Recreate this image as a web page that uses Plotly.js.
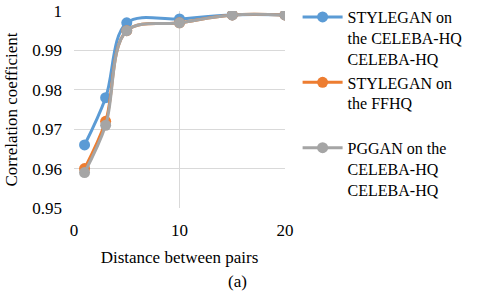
<!DOCTYPE html>
<html>
<head>
<meta charset="utf-8">
<script src="https://cdn.plot.ly/plotly-3.0.1.min.js"></script>
<style>html,body{margin:0;padding:0;background:#fff}#chart{width:480px;height:293px}</style>
</head>
<body>
<div id="chart"></div>
<script>
const distances = [1, 3, 5, 10, 15, 20];
const styleganCeleba = [0.966, 0.978, 0.997, 0.998, 0.999, 0.999];
const styleganFfhq = [0.960, 0.972, 0.995, 0.997, 0.999, 0.999];
const pgganCeleba = [0.959, 0.971, 0.995, 0.997, 0.999, 0.999];
const seriesNames = [
  'STYLEGAN on<br>the CELEBA-HQ<br>CELEBA-HQ',
  'STYLEGAN on<br>the FFHQ<br> ',
  'PGGAN on the<br>CELEBA-HQ<br>CELEBA-HQ'
];
const colors = ['#5B9BD5', '#ED7D31', '#A5A5A5'];
const yTicks = [0.95, 0.96, 0.97, 0.98, 0.99, 1];
const yTickText = ['0.95', '0.96', '0.97', '0.98', '0.99', '1'];
const xTicks = [0, 10, 20];

const family = 'Liberation Serif, Times New Roman, serif';
const font = {family: family, size: 17, color: '#000'};
const legendFont = {family: family, size: 16, color: '#000'};
const allY = [styleganCeleba, styleganFfhq, pgganCeleba];
const traces = allY.map((ys, i) => ({
  x: distances, y: ys, name: seriesNames[i], type: 'scatter', mode: 'lines+markers',
  line: {color: colors[i], width: 3, shape: 'spline', smoothing: 1},
  marker: {color: colors[i], size: 11},
  legendgroup: 'g' + i
}));

const layout = {
  width: 480, height: 293,
  margin: {l: 74, r: 195, t: 11, b: 85},
  paper_bgcolor: '#fff', plot_bgcolor: '#fff',
  font: font,
  showlegend: true,
  legend: {
    xref: 'container', yref: 'container', x: 0.62, y: 1.0, xanchor: 'left', yanchor: 'top',
    valign: 'top', tracegroupgap: 0, font: legendFont, itemwidth: 40,
    bgcolor: 'rgba(0,0,0,0)', maxheight: 293
  },
  xaxis: {
    range: [0, 20], tickvals: xTicks, ticktext: xTicks.map(String),
    showgrid: true, gridcolor: '#D9D9D9', gridwidth: 1, zeroline: false,
    showline: false, ticks: '', tickfont: font, ticklabelstandoff: 10,
    title: {text: 'Distance between pairs', font: font, standoff: 12}
  },
  yaxis: {
    range: [0.95, 1], tickvals: yTicks, ticktext: yTickText,
    showgrid: true, gridcolor: '#D9D9D9', gridwidth: 1, zeroline: false,
    showline: false, ticks: '', tickfont: font, ticklabelstandoff: 11,
    title: {text: 'Correlation coefficient', font: font, standoff: 10}
  },
  annotations: [{
    text: '(a)', xref: 'paper', yref: 'paper', x: 0.777, y: -0.375,
    showarrow: false, font: font, xanchor: 'center', yanchor: 'middle'
  }]
};
Plotly.newPlot('chart', traces, layout, {displayModeBar: false, staticPlot: true});
</script>
</body>
</html>
